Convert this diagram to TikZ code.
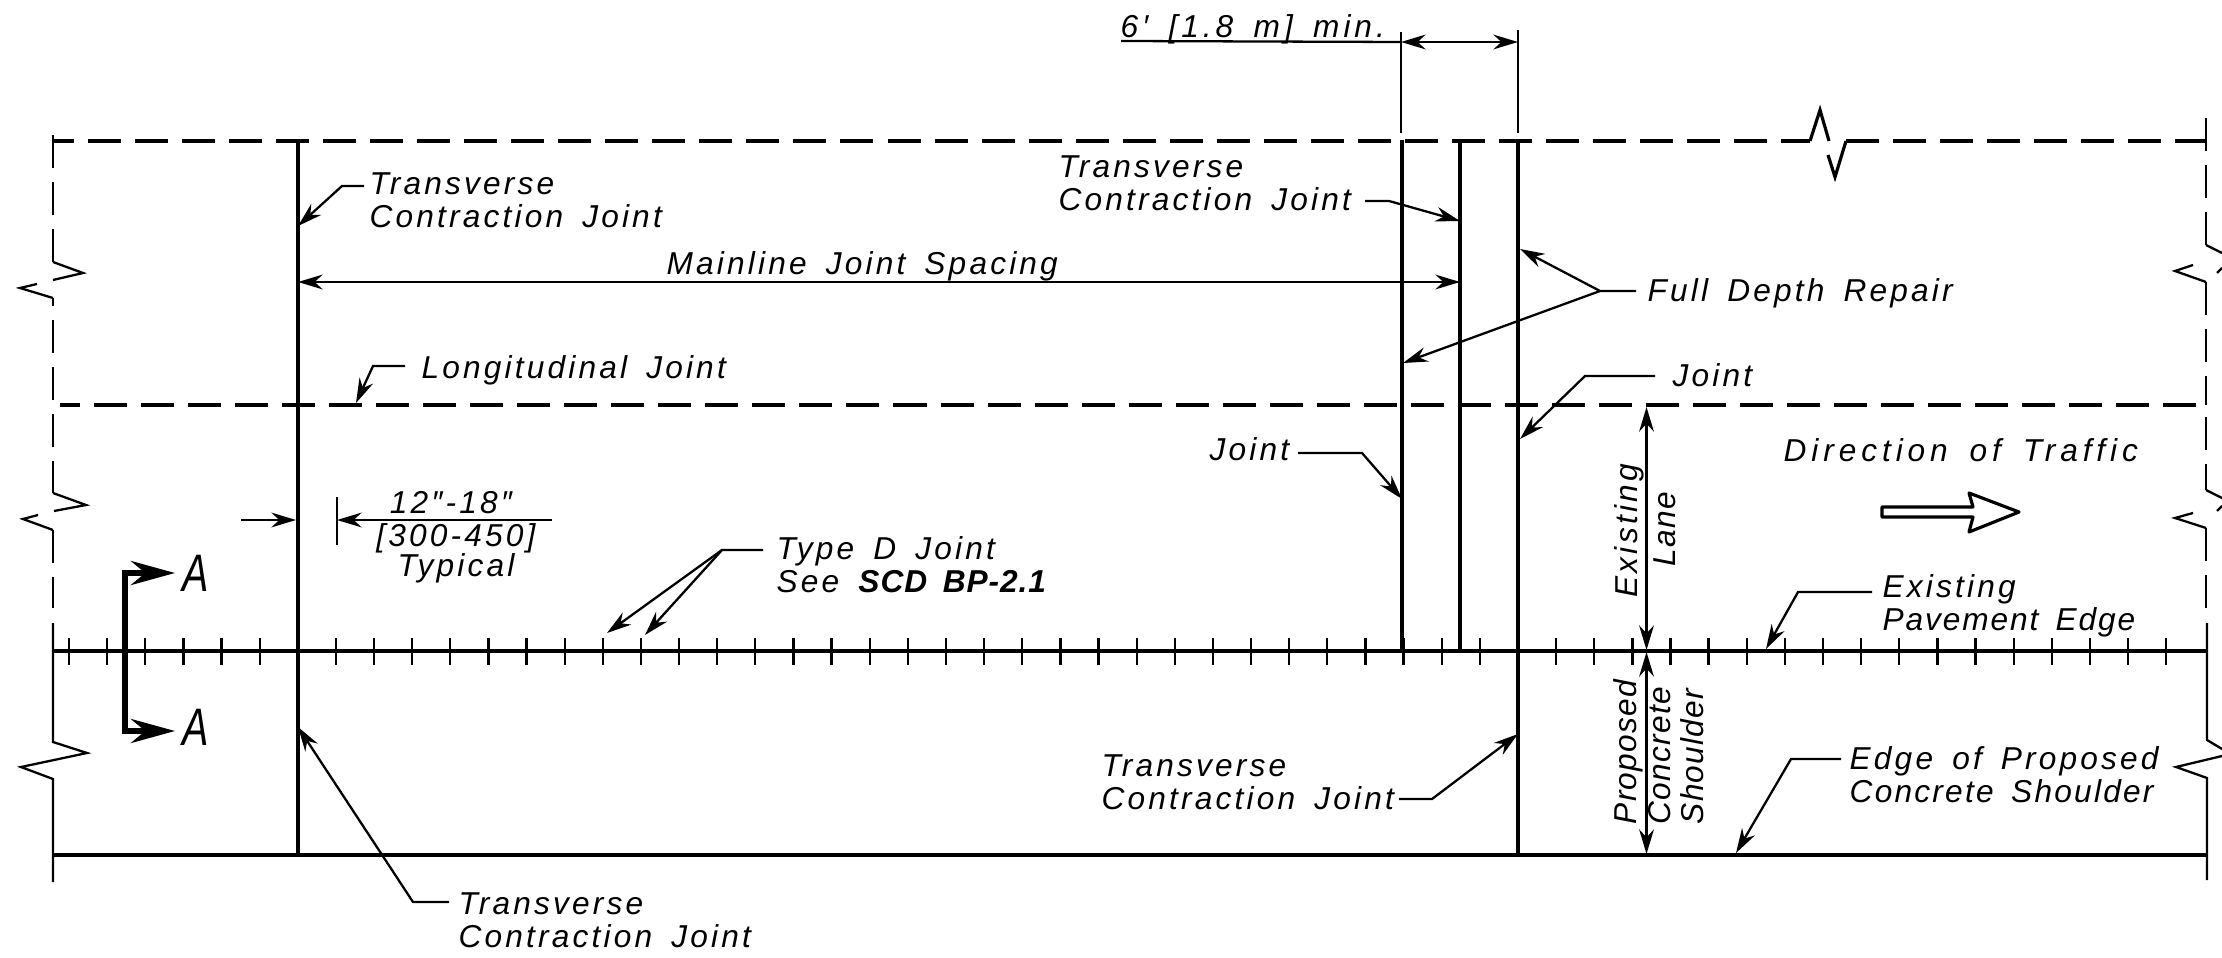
\documentclass[tikz,border=0pt]{standalone}
\usepackage{fontspec}
\usetikzlibrary{arrows.meta}
\setmainfont{Liberation Sans}[LetterSpace=10,WordSpace=1.6]

\begin{document}
\begin{tikzpicture}[x=0.01cm,y=-0.01cm,>={Stealth[length=7pt,width=4.2pt]},
    thin line/.style={line width=0.65pt},
    joint/.style={line width=1.25pt},
    edgeline/.style={line width=1.4pt},
    dashline/.style={line width=1.4pt,dash pattern=on 0.33cm off 0.14cm},
    sideline/.style={line width=0.65pt,dash pattern=on 0.33cm off 0.14cm},
    lbl/.style={anchor=west,inner sep=0pt,align=left,font=\fontsize{9}{9.4}\selectfont\itshape},
    tightlbl/.style={lbl,font=\fontsize{9}{9.4}\selectfont\itshape\addfontfeature{LetterSpace=4}},
    widelbl/.style={lbl,font=\fontsize{9}{9.4}\selectfont\itshape\addfontfeature{LetterSpace=15.5}},
    seclbl/.style={lbl,anchor=center,font=\fontsize{15}{15}\selectfont\itshape},
    secline/.style={line width=1.7pt,{Stealth[length=0.44cm,width=0.24cm]}-{Stealth[length=0.44cm,width=0.24cm]}}]
    \useasboundingbox (0,0) rectangle (2222,958);

    % pavement lines
    \draw[dashline,dash phase=0.11cm] (52,141) -- (1810,141);
    \draw[thin line,line width=0.9pt] (1810,141) -- (1820,110) -- (1829,141);
    \draw[thin line,line width=0.9pt] (1846,141) -- (1835,177) -- (1828,155);
    \draw[dashline] (1846,141) -- (2206,141);
    \draw[dashline,dash phase=0.13cm] (60,405) -- (2206,405);
    \draw[edgeline] (53,651) -- (2207,651);
    \draw[edgeline] (53,855) -- (2207,855);
    \foreach \k in {0,...,55}
      \draw[thin line] ({69+38.13*\k},638) -- ({69+38.13*\k},665);

    % left side with break marks
    \draw[sideline] (53,135) -- (53,262);
    \draw[thin line] (53,262) -- (83,273) -- (53,280);
    \draw[thin line] (37,284) -- (20,288) -- (53,298);
    \draw[sideline,dash phase=0.25cm] (53,298) -- (53,493);
    \draw[thin line] (53,493) -- (86,505) -- (54,511);
    \draw[thin line] (38,515) -- (23,519) -- (53,530);
    \draw[sideline] (53,530) -- (53,608);
    \draw[thin line] (53,623) -- (53,742) -- (87,753) -- (21,767) -- (53,779) -- (53,882);

    % right side with break marks
    \draw[sideline] (2206,118) -- (2206,245);
    \draw[thin line] (2206,245) -- (2222,253);
    \draw[thin line] (2222,268) -- (2217,273);
    \draw[thin line] (2193,265) -- (2175,271) -- (2206,282);
    \draw[sideline] (2206,282) -- (2206,405);
    \draw[sideline] (2206,417) -- (2206,490);
    \draw[thin line] (2206,490) -- (2222,498);
    \draw[thin line] (2222,506) -- (2217,511);
    \draw[thin line] (2193,513) -- (2175,518) -- (2206,528);
    \draw[sideline] (2206,528) -- (2206,608);
    \draw[thin line] (2207,623) -- (2207,740) -- (2222,749);
    \draw[thin line] (2222,756) -- (2176,767) -- (2207,778) -- (2207,880);

    % joints
    \coordinate (j0t) at (298,140);
    \coordinate (j0b) at (298,855);
    \coordinate (j1t) at (1402,140);
    \coordinate (j1b) at (1402,651);
    \coordinate (j2t) at (1460,140);
    \coordinate (j2b) at (1460,651);
    \coordinate (j3t) at (1518,140);
    \coordinate (j3b) at (1518,855);
    \draw[joint] (j0t) -- (j0b);
    \draw[joint] (j1t) -- (j1b);
    \draw[joint] (j2t) -- (j2b);
    \draw[joint] (j3t) -- (j3b);

    % labels
    \node[lbl] (tcj1) at (369,200) {Transverse\\Contraction Joint};
    \node[lbl] (tcj2) at (1058,183) {Transverse\\Contraction Joint};
    \node[lbl] (tcj3) at (1101,782) {Transverse\\Contraction Joint};
    \node[lbl] (tcj4) at (458,920) {Transverse\\Contraction Joint};
    \node[lbl] (spc) at (666,266) {Mainline Joint Spacing};
    \node[lbl] (ljt) at (421,370) {Longitudinal Joint};
    \node[lbl] (fdr) at (1647,293) {Full Depth Repair};
    \node[lbl] (jtr) at (1672,375) {Joint};
    \node[lbl] (jtl) at (1209,449) {Joint};
    \node[widelbl] (dot) at (1783,450) {Direction of Traffic};
    \node[lbl] (tdj) at (776,565) {Type D Joint\\See {\bfseries\addfontfeature{LetterSpace=3}SCD BP-2.1}};
    \node[lbl] (pve) at (1882,606) {Existing\\{\addfontfeature{LetterSpace=6}Pavement Edge}};
    \node[lbl] (eps) at (1849,775) {Edge of Proposed\\{\addfontfeature{LetterSpace=7}Concrete Shoulder}};
    \node[lbl] (min) at (1120,29) {\addfontfeature{LetterSpace=12.5}6′ [1.8 m] min.};
    \node[lbl,anchor=center] (d1) at (451,503) {12″-18″};
    \node[lbl,anchor=center] (d2) at (456,538) {[300-450]};
    \node[lbl,anchor=center] (d3) at (456,568) {Typical};
    \node[lbl,rotate=90] (ex1) at (1629,598) {Existing};
    \node[tightlbl,rotate=90] (ex2) at (1665,567) {Lane};
    \node[tightlbl,rotate=90] (sh1) at (1628,825) {Proposed};
    \node[tightlbl,rotate=90] (sh2) at (1660,825) {Concrete};
    \node[tightlbl,rotate=90] (sh3) at (1692,825) {Shoulder};
    \node[seclbl] (seca1) at (196,573) {\scalebox{0.75}[1]{A}};
    \node[seclbl] (seca2) at (196,727) {\scalebox{0.75}[1]{A}};

    % leader points
    \coordinate (a1e) at (364,186);
    \coordinate (a1k) at (342,186);
    \coordinate (a1h) at (298,226);
    \coordinate (a2e) at (1365,201);
    \coordinate (a2k) at (1389,201);
    \coordinate (a2h) at (1460,221);
    \coordinate (a3e) at (1399,799);
    \coordinate (a3k) at (1432,799);
    \coordinate (a3h) at (1518,734);
    \coordinate (a4e) at (449,902);
    \coordinate (a4k) at (413,902);
    \coordinate (a4h) at (298,727);
    \coordinate (a5e) at (405,366);
    \coordinate (a5k) at (373,366);
    \coordinate (a5h) at (356,403);
    \coordinate (a6e) at (1636,291);
    \coordinate (a6k) at (1600,291);
    \coordinate (a6h) at (1520,249);
    \coordinate (a6i) at (1403,363);
    \coordinate (a7e) at (1655,376);
    \coordinate (a7k) at (1585,376);
    \coordinate (a7h) at (1520,439);
    \coordinate (a8e) at (1298,453);
    \coordinate (a8k) at (1362,453);
    \coordinate (a8h) at (1402,499);
    \coordinate (a9e) at (763,550);
    \coordinate (a9k) at (722,550);
    \coordinate (a9h) at (607,633);
    \coordinate (a9i) at (645,635);
    \coordinate (b1e) at (1872,592);
    \coordinate (b1k) at (1798,592);
    \coordinate (b1h) at (1766,649);
    \coordinate (b2e) at (1841,759);
    \coordinate (b2k) at (1791,759);
    \coordinate (b2h) at (1736,853);

    \begin{scope}[thin line]
    \draw[->] (a1e) -- (a1k) -- (a1h);
    \draw[->] (a2e) -- (a2k) -- (a2h);
    \draw[->] (a3e) -- (a3k) -- (a3h);
    \draw[->] (a4e) -- (a4k) -- (a4h);
    \draw[->] (a5e) -- (a5k) -- (a5h);
    \draw[->] (a6e) -- (a6k) -- (a6h);
    \draw[->] (a6k) -- (a6i);
    \draw[->] (a7e) -- (a7k) -- (a7h);
    \draw[->] (a8e) -- (a8k) -- (a8h);
    \draw[->] (a9e) -- (a9k) -- (a9h);
    \draw[->] (a9k) -- (a9i);
    \draw[->] (b1e) -- (b1k) -- (b1h);
    \draw[->] (b2e) -- (b2k) -- (b2h);
    \end{scope}

    % dimensions
    \coordinate (m1) at (298,282);
    \coordinate (m2) at (1460,282);
    \coordinate (w1) at (1401,32);
    \coordinate (w2) at (1401,133);
    \coordinate (w3) at (1518,30);
    \coordinate (w4) at (1518,133);
    \coordinate (w5) at (1401,42);
    \coordinate (w6) at (1518,42);
    \coordinate (w7) at (1121,41);
    \coordinate (t1) at (241,520);
    \coordinate (t2) at (296,520);
    \coordinate (t3) at (337,497);
    \coordinate (t4) at (337,545);
    \coordinate (t5) at (552,520);
    \coordinate (t6) at (337,520);
    \coordinate (h1) at (1646.5,407);
    \coordinate (h2) at (1646.5,650);
    \coordinate (h3) at (1646.5,652);
    \coordinate (h4) at (1646.5,854);
    \begin{scope}[thin line]
    \draw[<->] (m1) -- (m2);
    \draw (w1) -- (w2);
    \draw (w3) -- (w4);
    \draw (w7) -- (w5);
    \draw[<->] (w5) -- (w6);
    \draw[->] (t1) -- (t2);
    \draw (t3) -- (t4);
    \draw[->] (t5) -- (t6);
    \draw[<->] (h1) -- (h2);
    \draw[<->] (h3) -- (h4);
    \end{scope}

    % section mark
    \coordinate (s1) at (175,573);
    \coordinate (s2) at (125,573);
    \coordinate (s3) at (125,731);
    \coordinate (s4) at (175,731);
    \draw[secline] (s1) -- (s2) -- (s3) -- (s4);

    % traffic arrow
    \draw[line width=0.9pt,line join=round] (1882,507) -- (1973,507) -- (1969,493) -- (2019,512) -- (1969,532) -- (1973,517) -- (1882,517) -- cycle;
\end{tikzpicture}
\end{document}
